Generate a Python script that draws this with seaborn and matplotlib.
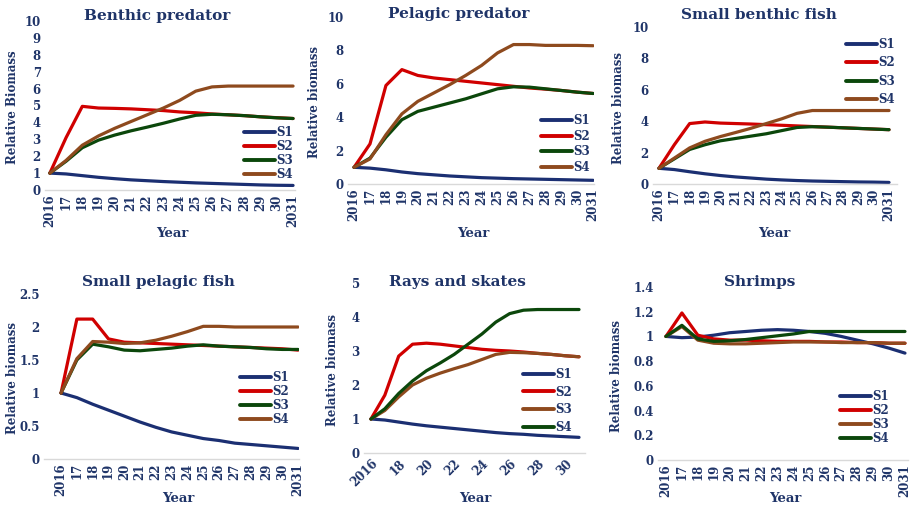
import matplotlib
matplotlib.use('Agg')
import matplotlib.pyplot as plt
import pandas as pd
import seaborn as sns

sns.set_theme(style='white')
plt.rcParams['font.family'] = ['DejaVu Serif']
plt.rcParams['font.weight'] = 'bold'

# Data
years = list(range(2016, 2032))
year_labels = ['2016'] + [str(y)[2:] for y in years[1:-1]] + ['2031']
scenarios = ['S1', 'S2', 'S3', 'S4']

benthic_pred = {
    'S1': [1, 0.95, 0.85, 0.75, 0.67, 0.6, 0.55, 0.5, 0.46, 0.42, 0.39, 0.36, 0.33, 0.3, 0.28, 0.27],
    'S2': [1, 3.1, 4.95, 4.85, 4.83, 4.8, 4.75, 4.7, 4.62, 4.57, 4.5, 4.45, 4.4, 4.33, 4.28, 4.23],
    'S3': [1, 1.7, 2.5, 2.95, 3.25, 3.5, 3.72, 3.95, 4.2, 4.42, 4.48, 4.45, 4.4, 4.33, 4.27, 4.23],
    'S4': [1, 1.75, 2.65, 3.2, 3.65, 4.05, 4.45, 4.85, 5.3, 5.85, 6.1, 6.15, 6.15, 6.15, 6.15, 6.15],
}
pelagic_pred = {
    'S1': [1, 0.95, 0.85, 0.72, 0.62, 0.55, 0.48, 0.43, 0.38, 0.35, 0.32, 0.3, 0.28, 0.26, 0.24, 0.22],
    'S2': [1, 2.4, 5.9, 6.85, 6.5, 6.35, 6.25, 6.15, 6.05, 5.95, 5.85, 5.75, 5.68, 5.6, 5.5, 5.42],
    'S3': [1, 1.55, 2.8, 3.85, 4.35, 4.6, 4.85, 5.1, 5.4, 5.7, 5.82, 5.8, 5.7, 5.6, 5.5, 5.42],
    'S4': [1, 1.5, 2.95, 4.2, 4.95, 5.45, 5.95, 6.5, 7.1, 7.85, 8.35, 8.35, 8.3, 8.3, 8.3, 8.28],
}
small_benthic = {
    'S1': [1, 0.92, 0.78, 0.65, 0.54, 0.45, 0.38, 0.31, 0.26, 0.22, 0.19, 0.17, 0.15, 0.13, 0.12, 0.1],
    'S2': [1, 2.5, 3.85, 3.95, 3.88, 3.85, 3.82, 3.78, 3.74, 3.7, 3.66, 3.62, 3.58, 3.54, 3.5, 3.46],
    'S3': [1, 1.6, 2.2, 2.5, 2.75, 2.9, 3.05, 3.2, 3.4, 3.6, 3.65, 3.62, 3.58, 3.54, 3.5, 3.46],
    'S4': [1, 1.65, 2.3, 2.72, 3.02, 3.28, 3.55, 3.85, 4.15, 4.5, 4.68, 4.68, 4.68, 4.68, 4.68, 4.68],
}
small_pelagic = {
    'S1': [1, 0.93, 0.83, 0.74, 0.65, 0.56, 0.48, 0.41, 0.36, 0.31, 0.28, 0.24, 0.22, 0.2, 0.18, 0.16],
    'S2': [1, 2.12, 2.12, 1.82, 1.77, 1.76, 1.75, 1.74, 1.73, 1.72, 1.71, 1.7, 1.69, 1.68, 1.67, 1.65],
    'S3': [1, 1.5, 1.74, 1.7, 1.65, 1.64, 1.66, 1.68, 1.71, 1.73, 1.71, 1.7, 1.69, 1.67, 1.66, 1.66],
    'S4': [1, 1.52, 1.78, 1.77, 1.75, 1.76, 1.8, 1.86, 1.93, 2.01, 2.01, 2.0, 2.0, 2.0, 2.0, 2.0],
}
rays_skates = {
    'S1': [1, 0.97, 0.91, 0.85, 0.8, 0.76, 0.72, 0.68, 0.64, 0.6, 0.57, 0.55, 0.52, 0.5, 0.48, 0.46],
    'S2': [1, 1.7, 2.85, 3.2, 3.23, 3.2, 3.15, 3.1, 3.05, 3.02, 3.0, 2.97, 2.93, 2.9, 2.86, 2.83],
    'S3': [1, 1.25, 1.65, 2.0, 2.2, 2.35, 2.48, 2.6, 2.75, 2.9, 2.96, 2.95, 2.93, 2.9, 2.86, 2.83],
    'S4': [1, 1.3, 1.75, 2.12, 2.42, 2.65, 2.9, 3.2, 3.5, 3.85, 4.1, 4.2, 4.22, 4.22, 4.22, 4.22],
}
shrimps = {
    'S1': [1, 0.99, 0.995, 1.01, 1.03, 1.04, 1.05, 1.055, 1.05, 1.04, 1.025, 1.0, 0.97, 0.94, 0.905, 0.865],
    'S2': [1, 1.19, 1.01, 0.98, 0.97, 0.97, 0.965, 0.96, 0.96, 0.96, 0.955, 0.955, 0.95, 0.95, 0.945, 0.945],
    'S3': [1, 1.08, 0.97, 0.945, 0.94, 0.94, 0.945, 0.95, 0.955, 0.955, 0.955, 0.95, 0.95, 0.95, 0.945, 0.945],
    'S4': [1, 1.09, 0.98, 0.96, 0.965, 0.975, 0.99, 1.005, 1.02, 1.04, 1.04, 1.04, 1.04, 1.04, 1.04, 1.04],
}

navy = '#1F3468'
blue = '#1B2F72'
red = '#D00000'
green = '#0B470B'
brown = '#8E4A1E'
pal_a = {'S1': blue, 'S2': red, 'S3': green, 'S4': brown}
pal_b = {'S1': blue, 'S2': red, 'S3': brown, 'S4': green}

W, H = 911, 509
fig = plt.figure(figsize=(W / 100, H / 100), dpi=100)

# each panel: data, title, ylabel, ylim, y step, palette,
# axis px box (x0, x1, y_bottom, y_top), xlim, title pos, ylabel x, year pos, legend pos
panels = [
    dict(data=benthic_pred, title='Benthic predator', ylabel='Relative Biomass',
         ylim=10, ystep=1, pal=pal_a, box=(45, 295, 190, 21), xlim=(-0.3, 15.12),
         tpos=(157, 16), ylx=13, ypos=(172, 234), leg=(293, 181), lsp=0.08, every=1),
    dict(data=pelagic_pred, title='Pelagic predator', ylabel='Relative biomass',
         ylim=10, ystep=2, pal=pal_a, box=(348, 594, 184, 17), xlim=(-0.38, 15.05),
         tpos=(459, 14), ylx=315, ypos=(473, 234), leg=(590, 174), lsp=0.22, every=1),
    dict(data=small_benthic, title='Small benthic fish', ylabel='Relative biomass',
         ylim=10, ystep=2, pal=pal_a, box=(653, 897, 184, 27), xlim=(-0.39, 15.52),
         tpos=(759, 15), ylx=618, ypos=(774, 234), leg=(895, 106), lsp=0.45, every=1),
    dict(data=small_pelagic, title='Small pelagic fish', ylabel='Relative biomass',
         ylim=2.5, ystep=0.5, pal=pal_a, box=(44, 299, 459, 294), xlim=(-1.08, 15.06),
         tpos=(158, 282), ylx=13, ypos=(178, 499), leg=(289, 426), lsp=0.08, every=1),
    dict(data=rays_skates, title='Rays and skates', ylabel='Relative biomass',
         ylim=5, ystep=1, pal=pal_b, box=(364, 585, 453, 283), xlim=(-0.5, 15.43),
         tpos=(457, 282), ylx=332, ypos=(475, 499), leg=(572, 434), lsp=0.4, every=2),
    dict(data=shrimps, title='Shrimps', ylabel='Relative biomass',
         ylim=1.4, ystep=0.2, pal=pal_b, box=(658, 908, 460, 287), xlim=(-0.5, 15.19),
         tpos=(760, 282), ylx=617, ypos=(785, 499), leg=(889, 445), lsp=0.08, every=1),
]

for p in panels:
    x0, x1, yb, yt = p['box']
    ax = fig.add_axes([x0 / W, 1 - yb / H, (x1 - x0) / W, (yb - yt) / H])
    rows = []
    for s in scenarios:
        for i, v in enumerate(p['data'][s]):
            rows.append({'idx': i, 'value': v, 'Scenario': s})
    df = pd.DataFrame(rows)
    sns.lineplot(data=df, x='idx', y='value', hue='Scenario', hue_order=scenarios,
                 palette=p['pal'], linewidth=2.3, ax=ax, legend=False, sort=False)
    for s in scenarios:
        ax.plot([], [], color=p['pal'][s], lw=2.8, label=s)

    ax.set_xlim(*p['xlim'])
    ax.set_ylim(0, p['ylim'])
    n = int(round(p['ylim'] / p['ystep']))
    yt_vals = [round(k * p['ystep'], 2) for k in range(n + 1)]
    ax.set_yticks(yt_vals)
    ax.set_yticklabels(['{:g}'.format(v) for v in yt_vals])
    if p['every'] == 1:
        ax.set_xticks(range(16))
        ax.set_xticklabels(year_labels, rotation=90)
    else:
        ticks = list(range(0, 15, 2))
        ax.set_xticks(ticks)
        ax.set_xticklabels([year_labels[t] for t in ticks],
                           rotation=45, ha='right', rotation_mode='anchor')
    ax.tick_params(axis='both', length=0, labelsize=8.5, labelcolor=navy, pad=3)
    for lab in ax.get_xticklabels() + ax.get_yticklabels():
        lab.set_fontweight('bold')
    for side in ['top', 'right', 'left']:
        ax.spines[side].set_visible(False)
    ax.spines['bottom'].set_color('#D9D9D9')
    ax.spines['bottom'].set_linewidth(1)
    ax.set_xlabel('')
    ax.set_ylabel('')
    ax.grid(False)
    ax.patch.set_alpha(0)

    fig.text(p['tpos'][0] / W, 1 - p['tpos'][1] / H, p['title'], ha='center', va='center',
             fontsize=11, fontweight='bold', color=navy)
    fig.text(p['ylx'] / W, 1 - ((yb + yt) / 2 + 2) / H, p['ylabel'], ha='center', va='center',
             rotation=90, fontsize=8.5, fontweight='bold', color=navy)
    fig.text(p['ypos'][0] / W, 1 - p['ypos'][1] / H, 'Year', ha='center', va='center',
             fontsize=9.5, fontweight='bold', color=navy)
    leg = ax.legend(loc='lower right', bbox_to_anchor=(p['leg'][0] / W, 1 - p['leg'][1] / H),
                    bbox_transform=fig.transFigure, frameon=False, handlelength=2.6,
                    handletextpad=0.1, labelspacing=p['lsp'], borderpad=0, borderaxespad=0,
                    prop={'size': 8.5, 'weight': 'bold'})
    for t in leg.get_texts():
        t.set_color(navy)

fig.savefig('out.png', dpi=100)
